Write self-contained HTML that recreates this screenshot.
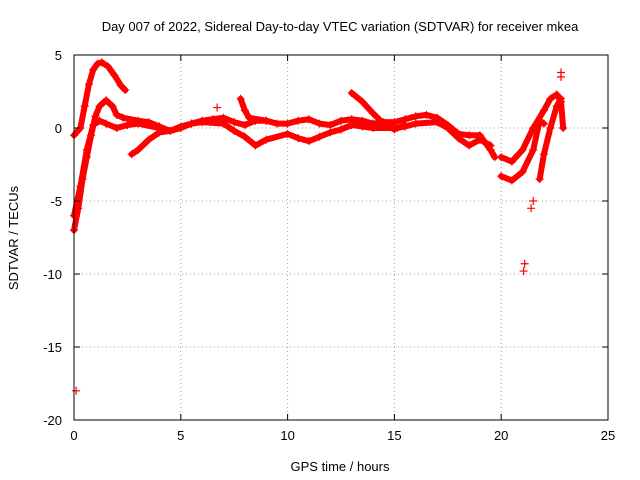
<!DOCTYPE html>
<html><head><meta charset="utf-8"><style>
body{margin:0;background:#fff}
svg{display:block;font-family:"Liberation Sans",Arial,sans-serif;font-size:13px}
</style></head><body>
<svg id="c" width="640" height="480">
<text x="340" y="31" text-anchor="middle">Day 007 of 2022, Sidereal Day-to-day VTEC variation (SDTVAR) for receiver mkea</text>
<text x="340" y="471" text-anchor="middle">GPS time / hours</text>
<text transform="translate(18,238) rotate(-90)" text-anchor="middle">SDTVAR / TECUs</text>
<g id="grid"></g><g id="marks"></g><g id="axes"></g>
</svg>
<script>
const xTicks=[0,5,10,15,20,25];
const yTicks=[5,0,-5,-10,-15,-20];
const trackA=[[0,-0.5],[0.3,0],[0.5,1.5],[0.7,3],[0.9,4],[1.1,4.4],[1.3,4.5],[1.6,4.2],[1.9,3.6],[2.2,2.9],[2.4,2.6]];
const trackB=[[0,-7],[0.2,-5.5],[0.4,-3.5],[0.6,-2],[0.8,-0.5],[1.0,0.8],[1.2,1.5],[1.5,1.9],[1.8,1.5],[2.0,0.9],[2.3,0.7],[3,0.5],[3.5,0.4],[4,0.1],[4.5,-0.2],[5,0],[5.5,0.3],[6,0.5],[6.5,0.6],[7,0.7],[7.5,0.4],[8,0.2],[8.5,0.5],[9,0.5],[9.5,0.3],[10,0.3],[10.5,0.5],[11,0.6],[11.5,0.3],[12,0.2],[12.5,0.5],[13,0.6],[13.5,0.5],[14,0.3],[14.5,0.4],[15,0.4],[15.5,0.6],[16,0.8],[16.5,0.9],[17,0.7],[17.5,0.2],[18,-0.4],[18.5,-0.5],[19,-0.5],[19.5,-1.5],[19.7,-2]];
const trackC=[[0,-6],[0.3,-4],[0.6,-1.5],[0.9,0.2],[1.2,0.5],[1.5,0.3],[2,0],[2.5,0.2],[3,0.3],[4,0]];
const trackD=[[2.7,-1.8],[3,-1.5],[3.5,-0.8],[4,-0.3],[4.5,-0.2],[5,0.1],[5.5,0.3],[6,0.4],[7,0.3],[7.5,-0.2],[8,-0.6],[8.5,-1.2],[9,-0.8],[10,-0.4],[10.5,-0.7],[11,-0.9],[11.5,-0.6],[12,-0.3],[12.5,-0.1],[13,0.2],[13.5,0.1],[14,0],[15,0],[15.5,0.1],[16,0.3],[17,0.4],[17.5,0],[18,-0.7],[18.5,-1.2],[19,-0.8],[19.5,-1.2]];
const trackE=[[7.8,2],[8,1.2],[8.2,0.7],[9,0.5]];
const trackF=[[13,2.4],[13.5,1.8],[14,1],[14.5,0.3],[15,-0.1],[15.5,0.2]];
const trackG=[[20,-2],[20.5,-2.3],[21,-1.5],[21.5,0],[22,1.2],[22.3,2],[22.6,2.3],[22.8,1.8],[22.9,0]];
const trackH=[[20,-3.3],[20.5,-3.6],[21,-3],[21.5,-1.5],[21.8,0.5],[22,0.3]];
const trackI=[[21.8,-3.5],[22,-1.8],[22.3,0],[22.6,1.5],[22.8,2]];
const isolated=[[21.4,-5.5],[21.5,-5],[21.05,-9.8],[21.1,-9.3],[0.1,-18],[22.8,3.8],[22.8,3.5],[6.7,1.4]];
const X=v=>74+(v-0)/25*534, Y=v=>55+(5-v)/25*365;
const NS="http://www.w3.org/2000/svg";
function mk(t,a,p){const e=document.createElementNS(NS,t);for(const k in a)e.setAttribute(k,a[k]);p.appendChild(e);return e;}
const grid=document.getElementById('grid'),marks=document.getElementById('marks'),axes=document.getElementById('axes');
xTicks.forEach(t=>{
 if(t>0&&t<25){const g=mk('line',{x1:X(t),x2:X(t),y1:55,y2:420,stroke:'#a0a0a0','stroke-dasharray':'1,3'},grid);
 
 }
 const l=mk('text',{x:X(t),y:440,'text-anchor':'middle'},axes);l.textContent=t;
 
 
 mk('line',{x1:X(t),x2:X(t),y1:420,y2:414,stroke:'#000'},axes);
 mk('line',{x1:X(t),x2:X(t),y1:55,y2:61,stroke:'#000'},axes);
});
yTicks.forEach(t=>{
 if(t<5&&t>-20){const g=mk('line',{x1:74,x2:608,y1:Y(t),y2:Y(t),stroke:'#a0a0a0','stroke-dasharray':'1,3'},grid);
 
 }
 const l=mk('text',{x:62,y:Y(t)+5,'text-anchor':'end'},axes);l.textContent=t;
 
 
 mk('line',{x1:74,x2:80,y1:Y(t),y2:Y(t),stroke:'#000'},axes);
 mk('line',{x1:602,x2:608,y1:Y(t),y2:Y(t),stroke:'#000'},axes);
});
const box=mk('rect',{x:74,y:55,width:534,height:365,fill:'none',stroke:'#000'},axes);


function plus(p,g){mk('path',{d:`M${X(p[0])-4},${Y(p[1])}h8M${X(p[0])},${Y(p[1])-4}v8`,stroke:'#f00','stroke-width':1.2},g);}
[trackA,trackB,trackC,trackD,trackE,trackF,trackG,trackH,trackI].forEach((tr,i)=>{
 const g=mk('g',{},marks);
 
 
 mk('polyline',{points:tr.map(p=>X(p[0])+','+Y(p[1])).join(' '),fill:'none',stroke:'#f00','stroke-width':6,'stroke-linejoin':'round','stroke-linecap':'round'},g);
 tr.forEach(p=>plus(p,g));
});
const gi=mk('g',{},marks);


isolated.forEach(p=>plus(p,gi));
</script>
</body></html>
